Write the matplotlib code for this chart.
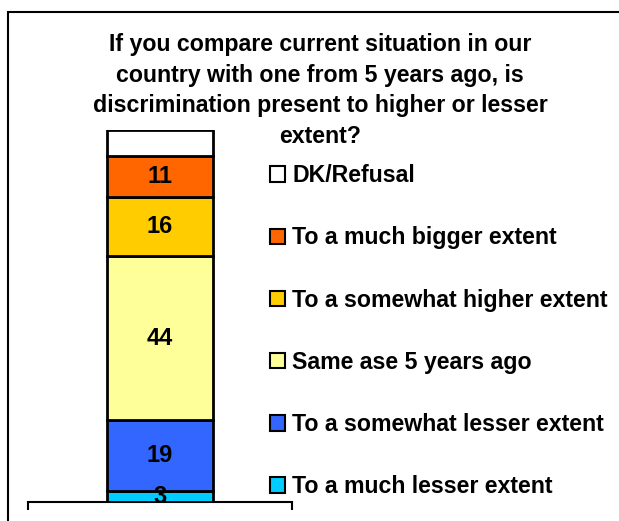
import matplotlib.pyplot as plt
from matplotlib.patches import Rectangle

# data, bottom to top
labels = ["To a much lesser extent",
          "To a somewhat lesser extent",
          "Same ase 5 years ago",
          "To a somewhat higher extent",
          "To a much bigger extent",
          "DK/Refusal"]
values = [3, 19, 44, 16, 11, 7]
shown = [True, True, True, True, True, False]
colors = ["#00CCFF", "#3366FF", "#FFFF99", "#FFCC00", "#FF6600", "#FFFFFF"]

title = ("If you compare current situation in our\n"
         "country with one from 5 years ago, is\n"
         "discrimination present to higher or lesser\n"
         "extent?")

plt.rcParams['font.family'] = ['Liberation Sans', 'DejaVu Sans']

W, H = 619, 521
fig = plt.figure(figsize=(W / 100, H / 100), dpi=100)
ax = fig.add_axes([28 / W, 1 - 502 / H, 264 / W, 372 / H])

bottom = 0
bars = []
for lab, v, c, s in zip(labels, values, colors, shown):
    b = ax.bar(0, v, width=0.4, bottom=bottom, color=c,
               edgecolor='black', linewidth=2, label=lab, zorder=3)
    bars.append(b)
    if s:
        ax.text(0, bottom + v / 2, str(v), ha='center', va='center',
                fontsize=17, fontweight='bold', zorder=4, clip_on=False)
    bottom += v

ax.set_xlim(-0.5, 0.5)
ax.set_ylim(0, 100)
for side in ['left', 'right', 'top']:
    ax.spines[side].set_visible(False)
ax.spines['bottom'].set_linewidth(1.5)
ax.set_yticks([])
ax.set_xticks([-0.5, 0.5])
ax.set_xticklabels([])
ax.tick_params(axis='x', direction='out', length=6, width=1.5)

handles = [b[0] for b in bars][::-1]
leg = fig.legend(handles, labels[::-1], loc='upper left',
                 bbox_to_anchor=(261 / W, 1 - 155 / H), frameon=False,
                 prop={'weight': 'bold', 'size': 16.7},
                 handlelength=0.65, handleheight=0.65, handletextpad=0.3,
                 labelspacing=1.69, borderaxespad=0)
for h in leg.legend_handles:
    h.set_linewidth(1.5)

fig.text(320 / W, 1 - 90.5 / H, title, ha='center', va='center',
         fontsize=16.7, fontweight='bold', linespacing=1.42)

# outer border
fig.patches.append(Rectangle((8 / W, -0.1), 1.2, 1 - 12 / H + 0.1,
                             transform=fig.transFigure, fill=False,
                             edgecolor='black', linewidth=1.5))

fig.savefig("out.png", dpi=100)
